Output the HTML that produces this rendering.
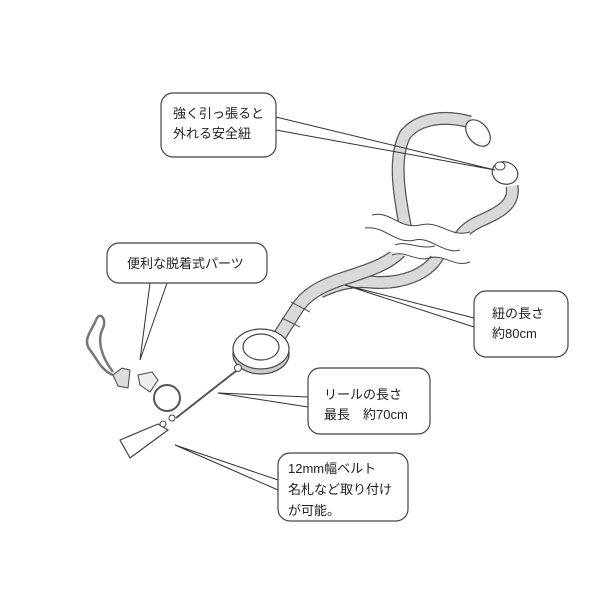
<!DOCTYPE html>
<html><head><meta charset="utf-8"><style>
html,body{margin:0;padding:0;background:#fff;}
svg{display:block;}
text{font-family:"Liberation Sans","Noto Sans CJK JP",sans-serif;font-size:13px;fill:#222;}
</style></head><body>
<svg width="600" height="600" viewBox="0 0 600 600" xmlns="http://www.w3.org/2000/svg">
<g fill="none" stroke-linecap="butt" stroke-linejoin="round">
<path d="M408,240 C400,200 392,160 405,135 C418,118 445,115 470,122" stroke="#555" stroke-width="13"/>
<path d="M408,240 C400,200 392,160 405,135 C418,118 445,115 470,122" stroke="#d9d9d9" stroke-width="10.5"/>
<path d="M512,186 C515,205 500,212 478,222 C462,230 458,238 455,248" stroke="#555" stroke-width="13"/>
<path d="M512,186 C515,205 500,212 478,222 C462,230 458,238 455,248" stroke="#d9d9d9" stroke-width="10.5"/>
<path d="M440,252 C430,275 400,285 370,282 C350,280 335,285 320,292" stroke="#555" stroke-width="13"/>
<path d="M440,252 C430,275 400,285 370,282 C350,280 335,285 320,292" stroke="#d9d9d9" stroke-width="10.5"/>
<path d="M405,245 C395,262 370,270 345,278 C320,286 305,295 296,310 L280,335" stroke="#555" stroke-width="14"/>
<path d="M405,245 C395,262 370,270 345,278 C320,286 305,295 296,310 L280,335" stroke="#d9d9d9" stroke-width="11.5"/>
<line x1="291" y1="302" x2="310" y2="312" stroke="#555" stroke-width="1"/>
<line x1="282" y1="318" x2="300" y2="327" stroke="#555" stroke-width="1"/>
</g>
<path d="M372,215 C390,210 400,230 420,225 C440,220 450,240 470,232 L470,262 C455,268 440,250 420,258 C405,262 395,245 380,255 C370,260 360,240 355,245 Z" fill="#fff"/>
<path d="M372,215 C390,210 400,230 420,225 C440,220 450,238 470,232" fill="none" stroke="#444" stroke-width="1"/>
<path d="M365,228 C385,225 395,245 415,240 C430,236 445,255 460,250" fill="none" stroke="#444" stroke-width="1"/>
<path d="M392,255 C405,250 415,262 430,258 C445,254 455,268 470,262" fill="none" stroke="#444" stroke-width="1"/>
<path d="M395,245 C405,240 420,250 435,246" fill="none" stroke="#444" stroke-width="1"/>
<ellipse cx="478" cy="133" rx="10" ry="15" transform="rotate(-40 478 133)" fill="#fff" stroke="#444" stroke-width="1.2"/>
<ellipse cx="505" cy="173" rx="13" ry="11" transform="rotate(20 505 173)" fill="#fff" stroke="#444" stroke-width="1.2"/>
<ellipse cx="500" cy="166" rx="5" ry="4" fill="#fff" stroke="#444" stroke-width="1"/>
<ellipse cx="261" cy="354" rx="28" ry="20" fill="#ccc" stroke="#444" stroke-width="1.2"/>
<ellipse cx="261" cy="349" rx="28" ry="20" fill="#fff" stroke="#444" stroke-width="1.2"/>
<ellipse cx="261" cy="347" rx="18" ry="13" fill="#fff" stroke="#444" stroke-width="1.2"/>
<circle cx="238" cy="368" r="3.5" fill="#fff" stroke="#444"/>
<line x1="236" y1="371" x2="176" y2="418" stroke="#555" stroke-width="2"/>
<circle cx="167" cy="398" r="13" fill="none" stroke="#555" stroke-width="2"/>
<path d="M120,440 L158,424 L168,430 L130,458 Z" fill="#fff" stroke="#444" stroke-width="1.2"/>
<circle cx="172" cy="418" r="3" fill="#fff" stroke="#444"/>
<circle cx="163" cy="424" r="3" fill="#fff" stroke="#444"/>
<path d="M113,375 L122,368 L130,370 L128,388 L118,386 Z" fill="#ddd" stroke="#444"/>
<path d="M138,375 L152,372 L158,380 L150,392 L140,385 Z" fill="#eee" stroke="#444"/>
<path d="M113,375 C100,370 95,355 90,350 C82,340 92,330 96,320 C100,310 108,320 102,330 C98,340 100,355 113,372" fill="none" stroke="#777" stroke-width="2.5"/>
<g fill="none" stroke="#333" stroke-width="1">
<path d="M276,117 L495,170 L276,130"/>
<path d="M150,283 L140,360 L167,283"/>
<path d="M474,318 L345,285 L474,327"/>
<path d="M308,397 L218,393 L308,407"/>
<path d="M278,480 L175,445 L278,490"/>
</g>
<g fill="#fff" stroke="#444" stroke-width="1.2">
<rect x="161" y="93" width="115" height="64" rx="12"/>
<rect x="107" y="243" width="160" height="40" rx="12"/>
<rect x="474" y="291" width="94" height="66" rx="12"/>
<rect x="308" y="368" width="122" height="66" rx="12"/>
<rect x="278" y="453" width="130" height="68" rx="12"/>
</g>
<text x="173" y="118">強く引っ張ると</text>
<text x="173" y="138">外れる安全紐</text>
<text x="127" y="268">便利な脱着式パーツ</text>
<text x="492" y="318">紐の長さ</text>
<text x="492" y="338">約80cm</text>
<text x="324" y="399">リールの長さ</text>
<text x="324" y="419">最長　約70cm</text>
<text x="288" y="473">12mm幅ベルト</text>
<text x="288" y="494">名札など取り付け</text>
<text x="288" y="515">が可能。</text>
</svg>
</body></html>
